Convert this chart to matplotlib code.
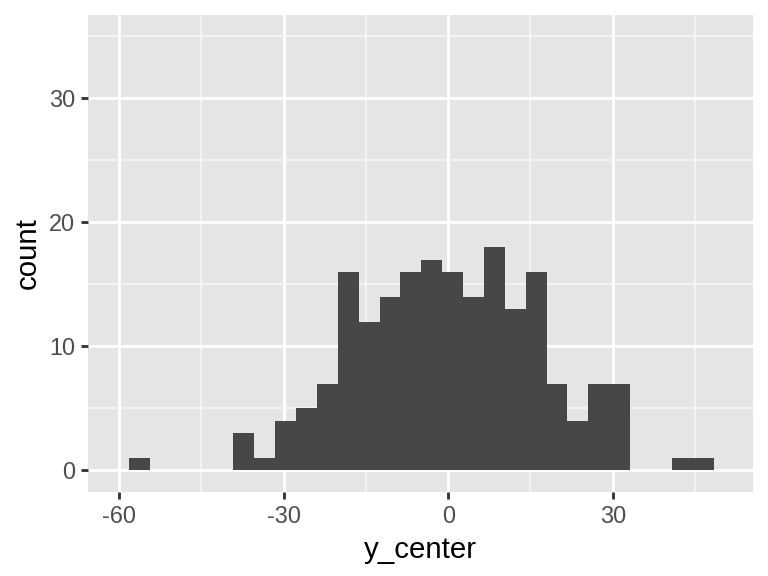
import numpy as np
import matplotlib
matplotlib.use("Agg")
import matplotlib.pyplot as plt
from matplotlib.ticker import MultipleLocator

# histogram of y_center, 28 bins
bin_start = -58.2
bin_stop = 48.4
counts = [1, 0, 0, 0, 0, 3, 1, 4, 5, 7, 16, 12, 14, 16, 17,
          16, 14, 18, 13, 16, 7, 4, 7, 7, 0, 0, 1, 1]
x_ticks = [-60, -30, 0, 30]
y_ticks = [0, 10, 20, 30]

edges = np.linspace(bin_start, bin_stop, len(counts) + 1)

plt.rcParams['font.family'] = ['Liberation Sans', 'DejaVu Sans']
plt.rcParams['axes.unicode_minus'] = False

fig = plt.figure(figsize=(4, 3), dpi=192)
ax = fig.add_axes([88 / 768, (576 - 492) / 576, (753 - 88) / 768, (492 - 14.7) / 576])
ax.set_facecolor("#E5E5E5")

ax.hist(edges[:-1], bins=edges, weights=counts, color="#474747", zorder=3)

ax.set_xlim(-65.7, 55.6)
ax.set_ylim(-1.75, 36.75)
ax.set_xticks(x_ticks)
ax.set_yticks(y_ticks)
ax.xaxis.set_minor_locator(MultipleLocator(15))
ax.yaxis.set_minor_locator(MultipleLocator(5))

ax.grid(which="major", color="white", linewidth=1.07, zorder=1)
ax.grid(which="minor", color="#F7F7F7", linewidth=0.6, zorder=1)
ax.set_axisbelow(True)

for s in ax.spines.values():
    s.set_visible(False)

ax.tick_params(which="major", length=2.75, width=1.07, color="#333333",
               labelcolor="#4D4D4D", labelsize=8.8, pad=2.2)
ax.tick_params(which="minor", length=0)

ax.set_xlabel("y_center", fontsize=11, labelpad=2.75)
ax.set_ylabel("count", fontsize=11, labelpad=2.75)

fig.savefig("out.png", dpi=192)
